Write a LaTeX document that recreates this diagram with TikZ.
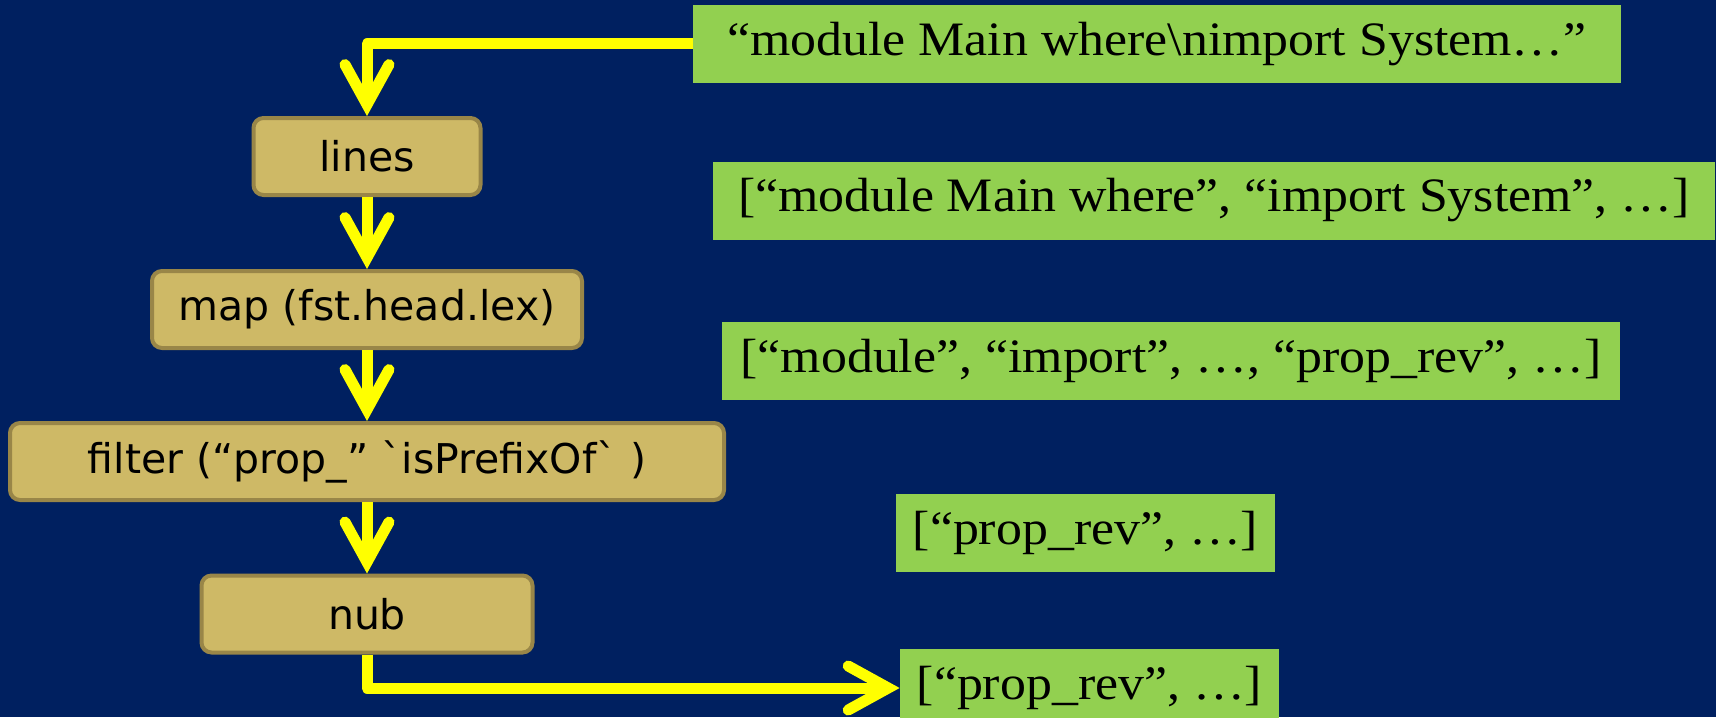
\documentclass[tikz,border=0pt]{standalone}
\usepackage{fontspec}
\setmainfont{Liberation Serif}
\newfontfamily\boxfont{DejaVu Sans}
\newfontfamily\serffont[FakeStretch=1.08]{Liberation Serif}
\usetikzlibrary{arrows.meta}
\definecolor{bgblue}{RGB}{0,32,96}
\definecolor{valgreen}{RGB}{146,208,80}
\definecolor{tanfill}{RGB}{206,185,102}
\definecolor{tanborder}{RGB}{153,134,72}
\definecolor{arrowyellow}{RGB}{255,255,0}
\begin{document}
\begin{tikzpicture}[x=0.5pt,y=-0.5pt,
  fn/.style={draw=tanborder, line width=2pt, fill=tanfill, rounded corners=5pt,
    font=\boxfont\fontsize{20.5}{25}\selectfont, inner sep=0pt, text=black,
    minimum height=38.5pt},
  val/.style={fill=valgreen, inner sep=0pt, text=black,
    font=\serffont\fontsize{24}{28}\selectfont, minimum height=39pt},
  flow/.style={draw=arrowyellow, line width=5.5pt, line join=round,
    -{Straight Barb[length=20pt, width=22pt, line cap=round]}}]
\useasboundingbox (0,0) rectangle (1716,717);
\fill[bgblue] (0,0) rectangle (1716,717);

\node[fn, minimum width=113.5pt] (lines) at (367,156.5) {lines};
\node[fn, minimum width=215pt] (map) at (367,309.5) {map (fst.head.lex)};
\node[fn, minimum width=357pt] (filter) at (367,461.5) {filter (“prop\_” \textasciigrave isPrefixOf\textasciigrave\ )};
\node[fn, minimum width=165.5pt] (nub) at (367,614) {nub};

\node[val, minimum width=464pt] (v1) at (1157,44) {“module Main where\textbackslash nimport System…”};
\node[val, minimum width=501pt] (v2) at (1214,200.5) {[“module Main where”, “import System”, …]};
\node[val, minimum width=449pt] (v3) at (1171,361) {[“module”, “import”, …, “prop\_rev”, …]};
\node[val, minimum width=189.5pt] (v4) at (1085.5,533) {[“prop\_rev”, …]};
\node[val, minimum width=189.5pt] (v5) at (1089.5,688) {[“prop\_rev”, …]};

\draw[flow] (v1.west) -| (lines.north);
\draw[flow] (lines.south) -- (map.north);
\draw[flow] (map.south) -- (filter.north);
\draw[flow] (filter.south) -- (nub.north);
\draw[flow] (nub.south) |- (v5.west);
\end{tikzpicture}
\end{document}
